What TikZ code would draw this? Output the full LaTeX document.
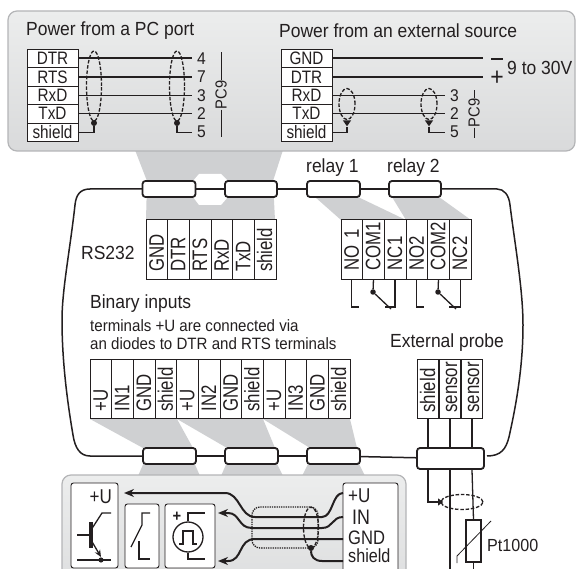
\documentclass[tikz,border=0pt]{standalone}
\usepackage{fontspec}
\setmainfont[FakeStretch=0.92]{Liberation Sans}
\newfontfamily\cellfont[FakeStretch=0.85]{Liberation Sans}
\newfontfamily\termfont[FakeStretch=0.8]{Liberation Sans}
\usetikzlibrary{arrows.meta,shapes.geometric}
\definecolor{ink}{HTML}{231F20}
\definecolor{funnel}{HTML}{CFD0D2}
\definecolor{panelrim}{HTML}{B4B5B7}
\definecolor{paneltop}{HTML}{ECEDED}
\definecolor{panelbot}{HTML}{D9DADB}
\newcommand{\fs}[1]{\fontsize{#1}{#1}\selectfont}
\tikzset{
 x=1pt,y=-1pt,
 txt/.style={text=ink,inner sep=0pt,font=\fs{19}},
 small/.style={text=ink,inner sep=0pt,font=\fs{16.4}},
 num/.style={text=ink,inner sep=5pt,font=\fs{17}},
 rowcell/.style={draw=ink,line width=.9pt,fill=white,minimum width=51pt,minimum height=18.4pt,inner sep=0pt,text=ink,font=\cellfont\fs{18}},
 term/.style={draw=ink,line width=.9pt,fill=white,rotate=90,minimum height=21.67pt,inner ysep=0pt,inner xsep=0pt,text width=45pt,minimum width=59.5pt,align=left,text=ink,font=\termfont\fs{21},text height=14pt,text depth=0pt},
 conn/.style={draw=ink,line width=1.8pt,fill=white,rounded corners=3pt,minimum height=16pt,inner sep=0pt},
 wire/.style={draw=ink,line width=1.3pt},
 heavy/.style={draw=ink,line width=2pt},
 body/.style={draw=ink,line width=1.5pt},
 shieldloop/.style={draw=ink,line width=1.3pt,dash pattern=on 3.5pt off 1.8pt},
 dot/.style={circle,fill=ink,inner sep=0pt,minimum size=6pt},
 tri/.style={isosceles triangle,isosceles triangle apex angle=70,shape border rotate=-90,fill=ink,inner sep=0pt,minimum size=6pt},
 panel/.style={draw=panelrim,line width=1.2pt,rounded corners=9pt,top color=paneltop,bottom color=panelbot},
 whitebox/.style={draw=ink,line width=.9pt,fill=white,rounded corners=2.5pt},
 symb/.style={draw=ink,line width=1.3pt},
 wirearrow/.style={heavy,-{Stealth[length=10pt,width=8pt]}}
}
\begin{document}
\begin{tikzpicture}
\useasboundingbox (0,0) rectangle (576,569);
\clip (0,0) rectangle (576,569);
\fill[white] (0,0) rectangle (576,569);
% funnels
\fill[funnel] (135,150) -- (283,150) -- (273,181) -- (275,220) -- (146,220) -- (147,181) -- cycle;
\fill[white] (199,174) -- (221,174) -- (228,181) -- (228,197) -- (221,205) -- (199,205) -- (193,197) -- (193,181) -- cycle;
\fill[funnel] (315,197) -- (358,197) -- (406,220) -- (341,220) -- cycle;
\fill[funnel] (392,197) -- (439,197) -- (471,220) -- (406,220) -- cycle;
\fill[funnel] (90,419) -- (177,419) -- (193,448) -- (143,448) -- cycle;
\fill[funnel] (177,419) -- (263,419) -- (275,448) -- (227,448) -- cycle;
\fill[funnel] (263,419) -- (350,419) -- (357,448) -- (310,448) -- cycle;
\fill[funnel] (145,460) -- (193,460) -- (200,476) -- (138,476) -- cycle;
\fill[funnel] (228,460) -- (275,460) -- (283,476) -- (221,476) -- cycle;
\fill[funnel] (310,460) -- (357,460) -- (365,476) -- (302,476) -- cycle;
% top panel
\path[panel] (8,11) rectangle (575,151);
% body outline
\draw[body] (143,189) -- (90,189) .. controls (80,189) and (76,195) .. (75,205)
  .. controls (70,250) and (62,290) .. (62,320)
  .. controls (62,360) and (67,400) .. (73,435)
  .. controls (75,448) and (80,456) .. (90,456) -- (143,456);
\draw[body] (441,189) -- (497,189) .. controls (504,189) and (509,195) .. (510,205)
  .. controls (515,245) and (523,290) .. (523,325)
  .. controls (523,370) and (515,410) .. (509,437)
  .. controls (506,449) and (501,456) .. (487,456);
% connectors
\node[conn,minimum width=53pt] (c1) at (169,189) {};
\node[conn,minimum width=52pt] (c2) at (251,189) {};
\node[conn,minimum width=53pt] (c3) at (333.5,189) {};
\node[conn,minimum width=52pt] (c4) at (415,189) {};
\node[conn,minimum width=53pt] (c5) at (169.5,456) {};
\node[conn,minimum width=53pt] (c6) at (251.5,456) {};
\node[conn,minimum width=53pt] (c7) at (333.5,456) {};
\draw[body] (c1) -- (c2) (c2) -- (c3) (c3) -- (c4);
\draw[body] (c5) -- (c6) (c6) -- (c7);
% probe wires
\node[term,text width=47pt] (p1) at (428,389) {\mbox{shield}};
\node[term,text width=47pt] (p2) at (450,389) {\mbox{sensor}};
\node[term,text width=47pt] (p3) at (472,389) {\mbox{sensor}};
\node[conn,minimum width=67pt,minimum height=21pt] (c8) at (450.5,458.5) {};
\draw[body] (c7) -- (c8);
\draw[wire] (p1.west) -- (p1.west |- c8.north);
\draw[wire] (p2.west) -- (p2.west |- c8.north);
\draw[wire] (p3.west) -- (p3.west |- c8.north);
\node[shieldloop,ellipse,minimum width=42pt,minimum height=15pt,inner sep=0pt] (ps) at (462,502) {};
\node[tri,minimum size=5pt,shape border rotate=0] (pd) at (440,502) {};
\node[draw=ink,line width=1.3pt,minimum width=15pt,minimum height=42pt,inner sep=0pt] (pt) at (473.5,541) {};
\coordinate (b2) at (450,575);
\coordinate (b3) at (473.5,575);
\draw[wire] (p1.west |- c8.south) |- (pd);
\draw[wire] (p2.west |- c8.south) -- (b2);
\draw[wire] (p3.west |- c8.south) -- (pt.north);
\draw[wire] (pt.south) -- (b3);
\draw[line width=.8pt,draw=ink] (457,563) -- (457,556) -- (491,521);
\node[txt,anchor=west,font=\fs{17.5}] (pt1000) at (487,545) {Pt1000};
\node[txt,anchor=west] (ep) at (390,343) {External probe};
% top-left table
\node[txt,anchor=west] (t1) at (26,31) {Power from a PC port};
\node[rowcell] (l1) at (52.5,58.5) {DTR};
\node[rowcell] (l2) at (52.5,77) {RTS};
\node[rowcell] (l3) at (52.5,95.4) {RxD};
\node[rowcell] (l4) at (52.5,113.8) {TxD};
\node[rowcell] (l5) at (52.5,132.2) {shield};
\node[num,anchor=west] (n1) at (192,58.5) {4};
\node[num,anchor=west] (n2) at (192,77) {7};
\node[num,anchor=west] (n3) at (192,95.4) {3};
\node[num,anchor=west] (n4) at (192,113.8) {2};
\node[num,anchor=west] (n5) at (192,132.2) {5};
\draw[heavy] (l1.east) -- (n1.west);
\draw[wire] (l2.east) -- (n2.west);
\draw[wire] (l3.east) -- (n3.west);
\draw[wire] (l4.east) -- (n4.west);
\node[shieldloop,ellipse,minimum width=15pt,minimum height=70pt,inner sep=0pt] (e1) at (94,86) {};
\node[shieldloop,ellipse,minimum width=15pt,minimum height=70pt,inner sep=0pt] (e2) at (177,86) {};
\node[dot] (d1) at (94,123) {};
\node[dot] (d2) at (177,123) {};
\draw[wire] (l5.east) -| (d1);
\draw[wire] (d2) |- (n5.west);
\node[text=ink,inner sep=0pt,font=\fs{16},rotate=90] (pc1) at (221,95) {PC9};
\coordinate (pc1a) at (221,52);
\coordinate (pc1b) at (221,137);
\draw[draw=ink,line width=.7pt] (pc1.east) -- (pc1a);
\draw[draw=ink,line width=.7pt] (pc1.west) -- (pc1b);
% top-right table
\node[txt,anchor=west] (t2) at (279,31) {Power from an external source};
\node[rowcell] (r1) at (306.5,58.5) {GND};
\node[rowcell] (r2) at (306.5,77) {DTR};
\node[rowcell] (r3) at (306.5,95.4) {RxD};
\node[rowcell] (r4) at (306.5,113.8) {TxD};
\node[rowcell] (r5) at (306.5,132.2) {shield};
\node[fill=ink,inner sep=0pt,minimum width=12pt,minimum height=1.7pt] (mn) at (497,59) {};
\node[text=ink,inner sep=0pt,font=\fs{25}] (pl) at (497,78) {+};
\node[txt,anchor=west] (v) at (507,68) {9 to 30V};
\node[num,anchor=west] (m3) at (445,95.4) {3};
\node[num,anchor=west] (m2) at (445,113.8) {2};
\node[num,anchor=west] (m5) at (445,132.2) {5};
\coordinate (minusend) at (483,58.5);
\coordinate (plusend) at (483,77);
\draw[heavy] (r1.east) -- (minusend);
\draw[wire] (r2.east) -- (plusend);
\draw[wire] (r3.east) -- (m3.west);
\draw[wire] (r4.east) -- (m2.west);
\node[shieldloop,ellipse,minimum width=16pt,minimum height=31pt,inner sep=0pt] (e3) at (347,104) {};
\node[shieldloop,ellipse,minimum width=16pt,minimum height=31pt,inner sep=0pt] (e4) at (429,104) {};
\node[tri] (d3) at (347,122.5) {};
\node[tri] (d4) at (429,122.5) {};
\draw[wire] (r5.east) -| (d3);
\draw[wire] (d4) |- (m5.west);
\node[text=ink,inner sep=0pt,font=\fs{16},rotate=90] (pc2) at (474,113) {PC9};
\coordinate (pc2a) at (474,90);
\coordinate (pc2b) at (474,138);
\draw[draw=ink,line width=.7pt] (pc2.east) -- (pc2a);
\draw[draw=ink,line width=.7pt] (pc2.west) -- (pc2b);
% RS232
\node[txt,anchor=west] (rs) at (81,253) {RS232};
\foreach \n/\t [count=\i from 0] in {a/GND,b/DTR,c/RTS,d/RxD,e/TxD,f/shield}{
  \node[term] (rs\n) at ({156.8+21.67*\i},249.5) {\mbox{\t}};
}
% relay
\node[txt,anchor=west] (re1) at (306,168) {relay 1};
\node[txt,anchor=west] (re2) at (387,168) {relay 2};
\foreach \n/\t [count=\i from 0] in {a/NO 1,b/COM1,c/NC1,d/NO2,e/COM2,f/NC2}{
  \node[term,text width=41.5pt] (rl\n) at ({351.8+21.67*\i},249.5) {\mbox{\t}};
}
\coordinate (no1) at (359,307);
\coordinate (nc1) at (385,307);
\coordinate (no2) at (424,307);
\coordinate (nc2) at (449,307);
\coordinate (sw1) at (391,309);
\coordinate (sw2) at (456,309);
\node[dot,minimum size=5.5pt] (s1) at (373,292) {};
\node[dot,minimum size=5.5pt] (s2) at (438,292) {};
\draw[wire] (rla.west) |- (no1);
\draw[wire] (rlc.west) |- (nc1);
\draw[wire] (rld.west) |- (no2);
\draw[wire] (rlf.west) |- (nc2);
\draw[wire] (rlb.west) -- (s1) -- (sw1);
\draw[wire] (rle.west) -- (s2) -- (sw2);
% binary inputs
\node[txt,anchor=west] (bi) at (90,304) {Binary inputs};
\node[small,anchor=west] (b1t) at (90,325.5) {terminals +U are connected via};
\node[small,anchor=west] (b2t) at (90,344) {an diodes to DTR and RTS terminals};
\foreach \n/\t [count=\i from 0] in {a/+U,b/IN1,c/GND,d/shield,e/+U,f/IN2,g/GND,h/shield,j/+U,k/IN3,l/GND,m/shield}{
  \node[term] (bi\n) at ({100.8+21.67*\i},389) {\mbox{\t}};
}
% bottom panel
\path[panel] (62,475) rectangle (406,620);
\draw[whitebox] (71,483) rectangle (118,568);
\draw[whitebox] (125,504) rectangle (159,568);
\draw[whitebox] (165,504) rectangle (215,568);
\draw[whitebox] (343,483) rectangle (398,580);
\node[txt,anchor=east,font=\cellfont\fs{20}] (u0) at (112,497) {+U};
% transistor
\draw[draw=ink,line width=3.5pt] (91,522) -- (91,548);
\draw[symb] (77,535) -- (91,535);
\draw[symb] (91,530) -- (102,513) -- (111,513);
\draw[symb,-{Stealth[length=7pt,width=6pt]}] (91,540) -- (101,557);
\draw[symb] (77,560) -- (111,560);
\fill[ink] (101,560) circle (2.6);
% switch
\draw[symb] (150,513) -- (142,513) -- (142,525) -- (131,547);
\draw[symb] (139,541) -- (139,559) -- (150,559);
% pulse
\node[draw=ink,line width=1.3pt,circle,minimum size=30pt,inner sep=0pt] (pu) at (188,537) {};
\coordinate (pu1) at (205,513);
\coordinate (pu2) at (205,559);
\draw[symb] (pu.north) |- (pu1);
\draw[symb] (pu.south) |- (pu2);
\draw[symb] (179,544) -- (183,544) -- (183,531) -- (193,531) -- (193,544) -- (197,544);
\node[text=ink,inner sep=0pt,font=\bfseries\fs{16}] (pplus) at (177,517) {+};
% terminal labels
\node[txt,anchor=west,font=\cellfont\fs{20}] (tu) at (348,496) {+U};
\node[txt,anchor=west,font=\cellfont\fs{21}] (ti) at (352,517) {IN};
\node[txt,anchor=west,font=\cellfont\fs{19.5}] (tg) at (348,538) {GND};
\node[text=ink,inner sep=0pt,font=\cellfont\fs{19},anchor=west] (ts) at (348,556) {shield};
% wires
\coordinate (au) at (124,493);
\coordinate (ai) at (218,513);
\coordinate (ag) at (218,561);
\draw[wirearrow] (343,493) .. controls (332,493) and (333,517) .. (322,517) -- (255,517)
  .. controls (240,517) and (240,493) .. (225,493) -- (au);
\draw[wirearrow] (343,517) .. controls (332,517) and (333,528) .. (322,528) -- (252,528)
  .. controls (238,528) and (240,513) .. (228,513) -- (ai);
\draw[wirearrow] (343,539) -- (255,539) .. controls (238,539) and (243,561) .. (228,561) -- (ag);
\node[draw=ink,line width=1.3pt,densely dotted,rounded corners=8pt,minimum width=66pt,minimum height=41pt,inner sep=0pt] (lp) at (285,527.5) {};
\node[shieldloop,ellipse,minimum width=15pt,minimum height=41pt,inner sep=0pt] (le) at (311,527.5) {};
\node[dot] (ld) at (311,548) {};
\coordinate (sh) at (343,561);
\draw[heavy] (ld) .. controls (311,556) and (314,561) .. (322,561) -- (sh);
\end{tikzpicture}
\end{document}
